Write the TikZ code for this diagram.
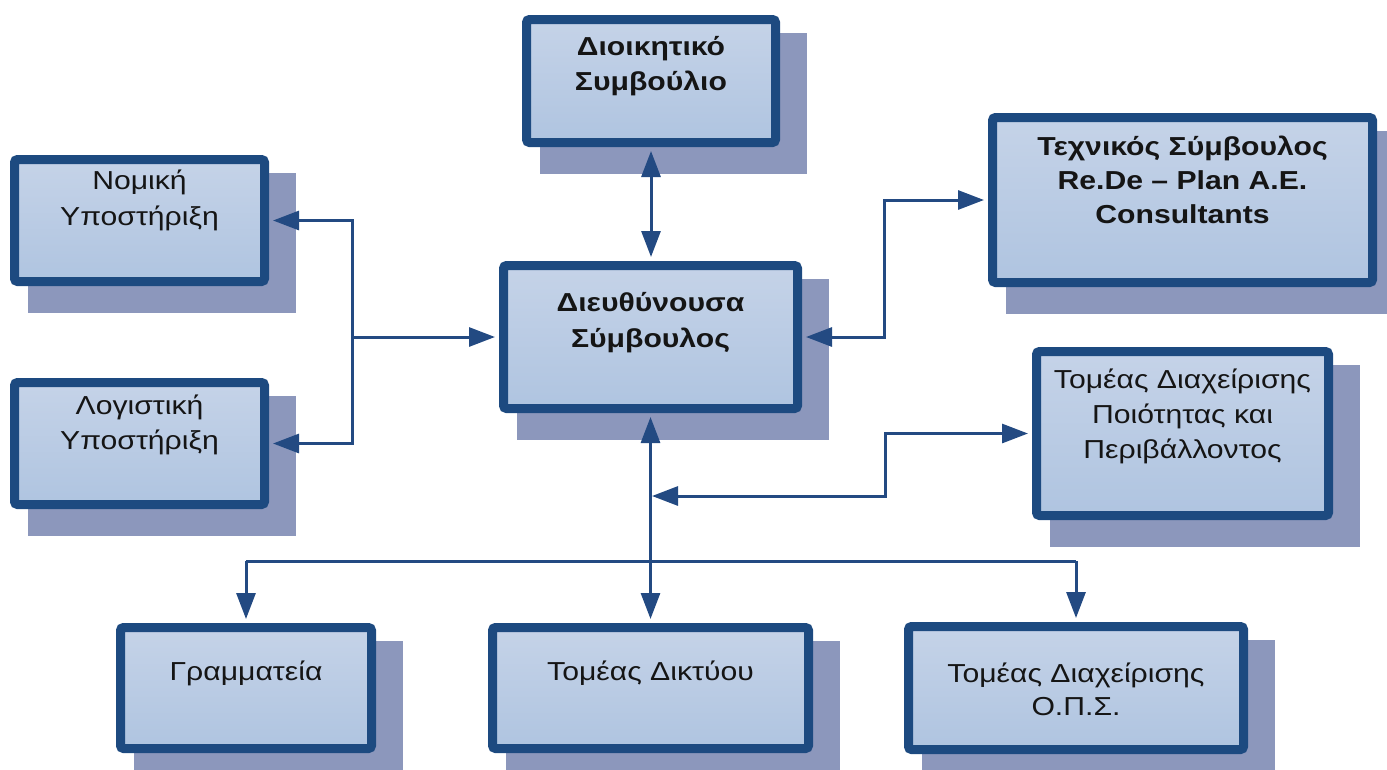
\documentclass[tikz,border=0pt]{standalone}
\usepackage{fontspec}
\setmainfont{Liberation Sans}[FakeStretch=1.16]
\usetikzlibrary{arrows.meta,backgrounds}
\definecolor{bord}{HTML}{1D4A80}
\definecolor{fillt}{HTML}{C5D3E8}
\definecolor{fillb}{HTML}{AFC4E0}
\definecolor{shad}{HTML}{8C97BC}
\definecolor{linec}{HTML}{234A82}
\definecolor{txtc}{HTML}{151515}
\newcommand\boxshadow[1]{\fill[shad] ([shift={(17.5,17.5)}]#1.north west) rectangle ([shift={(26.5,26.5)}]#1.south east);}
\begin{document}
\begin{tikzpicture}[x=1pt,y=-1pt,
  >={Triangle[length=26pt,width=19pt]},
  orgbox/.style={draw=bord,line width=9pt,rounded corners=3pt,top color=fillt,bottom color=fillb,inner sep=0pt},
  conn/.style={draw=linec,line width=3pt},
  lbl/.style={text=txtc,font=\fontsize{26}{30}\selectfont,anchor=base,inner sep=0pt},
  blbl/.style={lbl,font=\fontsize{26}{30}\selectfont\bfseries}]
\useasboundingbox (0,0) rectangle (1387,769);
% boxes
\node[orgbox,minimum width=249pt,minimum height=123pt] (A) at (651,81) {};
\node[orgbox,minimum width=250pt,minimum height=122pt] (B) at (139.5,220.5) {};
\node[orgbox,minimum width=250pt,minimum height=122pt] (C) at (139.5,443.5) {};
\node[orgbox,minimum width=294pt,minimum height=143pt] (D) at (650.5,337) {};
\node[orgbox,minimum width=380pt,minimum height=165pt] (E) at (1182.5,200) {};
\node[orgbox,minimum width=292pt,minimum height=164pt] (F) at (1182.5,433.5) {};
\node[orgbox,minimum width=251pt,minimum height=121pt] (G) at (246,688) {};
\node[orgbox,minimum width=316pt,minimum height=121pt] (H) at (650.5,688) {};
\node[orgbox,minimum width=335pt,minimum height=123pt] (I) at (1076,688) {};
\begin{scope}[on background layer]
\boxshadow{A}\boxshadow{B}\boxshadow{C}\boxshadow{D}\boxshadow{E}
\boxshadow{F}\boxshadow{G}\boxshadow{H}\boxshadow{I}
\end{scope}
% connectors
\coordinate (jl) at (352,337);
\coordinate (jr) at (884,337);
\coordinate (qk) at (885,496);
\coordinate (q1) at (652,496);
\coordinate (bus) at (650,561);
\draw[conn,<->,shorten <=4pt,shorten >=4pt] (A.south) -- (A.south |- D.north);
\draw[conn,->,shorten >=4pt] (jl) -- (D.west);
\draw[conn,->,shorten >=4pt] (jl) |- (B.east);
\draw[conn,->,shorten >=4pt] (jl) |- (C.east);
\draw[conn,<->,shorten <=4pt,shorten >=4pt] (D.east) -- (jr) |- (E.west);
\draw[conn,<->,shorten >=4pt] (q1) -- (qk) |- (F.west);
\draw[conn,<->,shorten <=4pt,shorten >=4pt] (D.south) -- (D.south |- H.north);
\draw[conn] (G.north |- bus) -- (I.north |- bus);
\draw[conn,->,shorten >=4pt] (G.north |- bus) -- (G.north);
\draw[conn,->,shorten >=4pt] (I.north |- bus) -- (I.north);
% texts
\node[blbl] (tA1) at (651,55) {Διοικητικό};
\node[blbl] (tA2) at (651,90) {Συμβούλιο};
\node[lbl] (tB1) at (139.5,189) {Νομική};
\node[lbl] (tB2) at (139.5,225) {Υποστήριξη};
\node[lbl] (tC1) at (139.5,414) {Λογιστική};
\node[lbl] (tC2) at (139.5,449) {Υποστήριξη};
\node[blbl] (tD1) at (650.5,311) {Διευθύνουσα};
\node[blbl] (tD2) at (650.5,347) {Σύμβουλος};
\node[blbl] (tE1) at (1182.5,155) {Τεχνικός Σύμβουλος};
\node[blbl] (tE2) at (1182.5,189) {Re.De – Plan A.E.};
\node[blbl] (tE3) at (1182.5,223) {Consultants};
\node[lbl] (tF1) at (1182.5,388) {Τομέας Διαχείρισης};
\node[lbl] (tF2) at (1182.5,423) {Ποιότητας και};
\node[lbl] (tF3) at (1182.5,458) {Περιβάλλοντος};
\node[lbl] (tG1) at (246,680) {Γραμματεία};
\node[lbl] (tH1) at (650.5,680) {Τομέας Δικτύου};
\node[lbl] (tI1) at (1076,682) {Τομέας Διαχείρισης};
\node[lbl] (tI2) at (1076,715) {Ο.Π.Σ.};
\end{tikzpicture}
\end{document}
